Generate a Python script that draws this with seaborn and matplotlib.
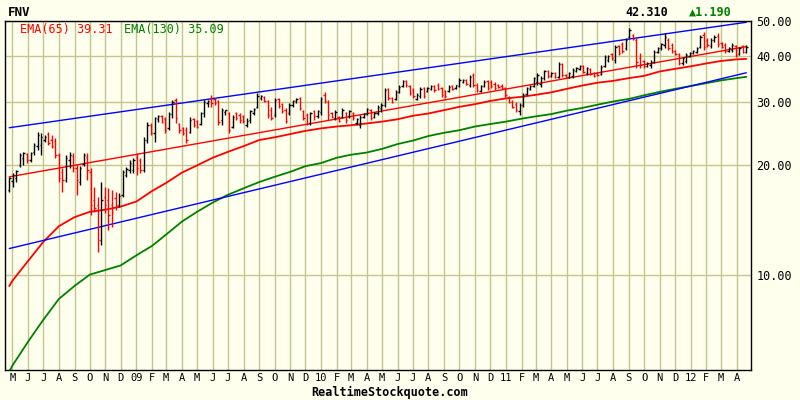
import pandas as pd
import matplotlib
matplotlib.use("Agg")
import matplotlib.pyplot as plt
import matplotlib.ticker as mticker
import seaborn as sns

# ---------------- data ----------------
ticker = "FNV"
first_week = "2008-04-25"
n_weeks = 209

opens = [17.12, 18.13, 18.47, 20.06, 20.97, 21.51, 20.70, 21.78, 22.63, 22.77,
         23.50, 24.42, 23.50, 23.35, 21.37, 19.19, 18.24, 20.70, 21.24, 19.68,
         18.01, 20.18, 21.10, 19.19, 16.06, 15.56, 12.47, 16.37, 16.06, 15.56,
         16.27, 15.56, 16.58, 18.82, 19.43, 19.43, 21.10, 20.70, 19.43, 23.50,
         25.85, 24.57, 26.85, 27.37, 26.85, 25.36, 27.72, 30.29, 26.01, 25.36,
         25.04, 24.73, 26.85, 26.51, 26.01, 27.89, 29.72, 30.48, 30.48, 30.10,
         26.68, 28.07, 27.89, 25.52, 27.89, 27.54, 27.37, 25.85, 26.68, 27.89,
         28.98, 30.68, 30.88, 30.10, 28.43, 27.54, 30.48, 29.53, 28.43, 27.89,
         29.35, 30.10, 30.68, 28.25, 27.54, 26.18, 28.25, 27.37, 28.07, 31.27,
         29.91, 27.89, 27.02, 27.19, 27.19, 27.89, 27.37, 27.89, 26.18, 25.85,
         27.19, 27.72, 28.43, 27.19, 27.89, 28.79, 29.35, 32.49, 30.68, 30.48,
         31.87, 33.11, 34.17, 33.11, 32.28, 30.48, 31.07, 32.69, 32.08, 32.49,
         33.11, 33.32, 32.69, 32.08, 32.08, 33.11, 32.69, 33.11, 33.96, 34.39,
         33.32, 35.50, 33.32, 32.08, 33.11, 34.17, 33.96, 33.53, 33.32, 33.11,
         32.69, 30.88, 29.91, 29.53, 28.25, 29.35, 31.47, 32.49, 33.11, 33.96,
         33.53, 34.83, 36.41, 35.28, 35.95, 35.05, 38.06, 35.50, 35.05, 35.28,
         36.41, 36.88, 37.58, 35.95, 36.88, 35.95, 35.95, 35.73, 37.58, 39.04,
         40.56, 39.04, 42.67, 43.22, 42.13, 45.17, 45.75, 44.32, 39.54, 38.79,
         37.58, 37.82, 38.55, 41.08, 42.13, 42.94, 44.32, 42.94, 41.34, 40.56,
         38.30, 38.79, 40.05, 40.82, 41.08, 42.40, 45.75, 44.32, 42.67, 44.32,
         45.46, 43.49, 42.94, 41.34, 41.60, 42.67, 40.56, 42.67, 41.08]

highs = [18.59, 19.06, 19.43, 21.64, 21.78, 21.64, 21.78, 23.06, 24.73, 24.57,
         24.26, 24.73, 24.26, 23.80, 21.64, 19.68, 21.37, 21.78, 21.64, 20.06,
         19.93, 21.64, 21.64, 19.68, 17.45, 16.37, 18.01, 17.45, 17.34, 17.12,
         16.90, 16.79, 19.43, 19.81, 20.70, 20.97, 21.64, 20.97, 23.96, 26.34,
         26.18, 27.19, 27.54, 27.54, 27.19, 28.07, 30.29, 30.68, 26.18, 25.52,
         25.52, 27.19, 27.02, 26.68, 28.07, 30.29, 30.29, 31.27, 30.68, 30.29,
         28.79, 28.43, 28.07, 27.54, 28.07, 27.89, 27.54, 27.02, 28.43, 28.79,
         31.67, 31.27, 31.07, 30.29, 28.98, 30.68, 30.68, 29.72, 28.79, 29.72,
         30.29, 30.68, 30.88, 28.43, 27.89, 28.07, 28.43, 28.43, 30.88, 31.87,
         30.29, 28.07, 28.43, 27.37, 28.79, 28.07, 28.43, 28.07, 27.02, 27.54,
         27.89, 28.79, 28.61, 28.07, 29.35, 29.72, 32.69, 32.69, 30.88, 32.28,
         33.32, 34.39, 34.39, 33.32, 32.69, 31.67, 32.90, 32.90, 32.90, 33.32,
         33.32, 33.75, 32.90, 32.28, 33.32, 33.32, 33.32, 34.83, 34.61, 34.61,
         35.50, 35.95, 33.75, 33.32, 34.39, 34.39, 34.39, 33.96, 33.53, 33.53,
         32.90, 31.07, 30.29, 29.91, 29.72, 31.67, 32.90, 33.32, 35.05, 35.95,
         35.28, 36.64, 36.64, 36.18, 36.18, 38.55, 38.30, 35.73, 36.18, 37.11,
         37.35, 37.82, 37.82, 37.35, 37.11, 36.18, 36.18, 37.82, 40.30, 40.30,
         40.82, 42.94, 42.94, 43.77, 44.89, 47.84, 46.04, 44.89, 40.82, 39.04,
         38.55, 39.04, 41.60, 42.40, 43.49, 46.33, 44.89, 43.49, 41.60, 40.82,
         39.79, 40.82, 41.08, 41.60, 42.40, 45.75, 46.63, 44.89, 44.89, 45.75,
         46.33, 43.77, 43.49, 42.40, 43.49, 42.94, 42.40, 42.94, 42.94]

lows = [16.90, 17.45, 18.01, 19.81, 20.06, 20.31, 20.44, 21.37, 22.06, 21.37,
        23.20, 22.77, 22.34, 20.97, 18.01, 16.90, 18.01, 19.68, 19.19, 16.58,
        17.67, 19.93, 18.24, 14.61, 14.89, 11.55, 12.08, 14.80, 13.28, 13.54,
        15.08, 15.37, 16.37, 18.59, 19.06, 19.06, 18.82, 19.06, 19.19, 23.06,
        24.26, 23.20, 26.34, 26.18, 24.57, 25.04, 27.02, 26.18, 24.57, 24.26,
        23.06, 24.57, 25.52, 25.36, 25.85, 27.19, 28.98, 28.98, 29.35, 25.85,
        25.85, 27.54, 24.57, 25.36, 26.68, 26.18, 26.18, 25.52, 26.18, 27.54,
        28.79, 30.29, 29.91, 27.02, 26.68, 27.19, 28.79, 27.89, 26.18, 27.54,
        28.98, 29.72, 28.43, 26.68, 25.85, 25.85, 26.68, 27.02, 27.54, 29.72,
        26.68, 27.02, 26.68, 26.34, 27.02, 26.18, 27.02, 26.68, 25.85, 25.36,
        27.02, 27.54, 26.68, 27.02, 27.54, 28.07, 28.98, 30.29, 29.72, 30.29,
        31.67, 32.90, 32.90, 31.27, 30.68, 30.29, 30.68, 30.68, 31.87, 32.28,
        31.87, 32.28, 30.88, 30.68, 31.87, 32.28, 32.49, 32.90, 33.75, 33.32,
        32.90, 32.90, 31.87, 31.87, 32.90, 32.28, 32.69, 32.28, 32.69, 32.49,
        30.88, 29.72, 28.79, 28.07, 27.54, 28.98, 31.27, 32.28, 32.90, 33.32,
        32.90, 34.39, 34.83, 35.05, 34.83, 34.83, 35.05, 34.83, 34.83, 34.83,
        36.18, 36.64, 35.95, 35.50, 35.50, 35.05, 35.28, 35.50, 37.35, 38.55,
        39.04, 38.30, 40.30, 40.82, 41.60, 44.89, 44.32, 37.11, 37.11, 37.11,
        37.35, 37.11, 38.30, 40.82, 41.60, 42.13, 41.60, 40.82, 40.30, 37.82,
        37.82, 38.30, 39.79, 40.56, 40.82, 42.13, 41.60, 42.40, 42.13, 43.77,
        42.40, 42.13, 40.82, 41.08, 41.08, 39.79, 40.30, 40.82, 40.82]

closes = [18.47, 18.82, 19.31, 21.37, 21.64, 20.70, 21.64, 22.77, 24.26, 23.96,
          23.96, 23.06, 22.63, 21.37, 18.47, 18.24, 20.97, 21.37, 19.68, 18.24,
          19.68, 21.37, 19.43, 15.56, 15.27, 12.47, 16.06, 15.56, 14.61, 14.89,
          15.56, 16.48, 19.19, 19.56, 20.31, 20.70, 19.68, 19.43, 23.50, 25.85,
          24.57, 27.02, 27.37, 26.34, 25.04, 27.72, 29.91, 27.02, 25.04, 24.57,
          23.50, 26.68, 25.85, 25.52, 27.89, 29.91, 30.10, 29.72, 29.72, 26.34,
          28.43, 28.43, 25.04, 27.19, 27.02, 26.68, 26.51, 26.51, 28.25, 28.61,
          31.07, 31.07, 30.10, 27.54, 27.02, 30.29, 29.16, 28.25, 26.51, 29.35,
          30.10, 30.48, 28.79, 27.02, 26.18, 27.89, 27.37, 28.25, 30.48, 30.10,
          27.54, 27.19, 28.07, 26.51, 28.43, 26.68, 28.25, 27.02, 26.85, 27.19,
          27.72, 28.61, 27.02, 27.89, 28.98, 29.35, 32.28, 30.68, 29.91, 31.87,
          32.90, 34.17, 33.32, 31.67, 31.07, 31.27, 32.49, 31.07, 32.69, 33.11,
          32.28, 32.49, 31.27, 31.07, 32.90, 32.49, 33.32, 34.39, 34.39, 33.53,
          35.05, 33.32, 32.28, 33.11, 33.96, 32.69, 33.11, 32.69, 32.90, 32.69,
          31.27, 29.91, 28.98, 28.43, 29.35, 31.27, 32.69, 33.11, 34.83, 35.50,
          34.83, 36.41, 35.28, 35.95, 35.05, 38.06, 35.50, 35.05, 35.95, 36.64,
          37.11, 37.58, 36.18, 37.11, 35.73, 35.28, 35.50, 37.35, 39.79, 40.05,
          39.54, 42.40, 40.82, 41.34, 44.32, 47.22, 44.60, 38.55, 37.82, 37.58,
          38.30, 38.55, 41.08, 42.13, 43.22, 45.17, 42.13, 41.34, 40.56, 38.30,
          39.54, 40.30, 40.82, 41.34, 42.13, 45.17, 42.40, 42.94, 44.32, 45.17,
          43.22, 42.40, 41.34, 42.13, 42.94, 40.30, 42.13, 41.12, 42.31]

ema_dates = ["2008-04-25"] + [f"{y}-{m:02d}-01" for y, m in
             [(2008, m) for m in range(5, 13)] +
             [(yy, m) for yy in (2009, 2010, 2011) for m in range(1, 13)] +
             [(2012, m) for m in range(1, 5)]] + ["2012-04-20"]

ema65 = [9.30, 9.61, 10.9, 12.3, 13.6, 14.4, 14.9, 15.1, 15.4,
         15.9, 17.0, 17.9, 19.1, 20.0, 21.0, 21.8, 22.6, 23.5, 23.9, 24.4, 24.9,
         25.3, 25.6, 25.8, 26.1, 26.4, 26.8, 27.4, 27.8, 28.4, 29.0, 29.5, 30.1,
         30.6, 30.9, 31.3, 31.8, 32.5, 33.2, 33.8, 34.2, 34.8, 35.3, 36.3, 36.9,
         37.5, 38.2, 38.8, 39.2, 39.31]

ema130 = [5.40, 5.61, 6.53, 7.50, 8.57, 9.31, 10.0, 10.3, 10.6,
          11.3, 12.0, 12.9, 14.0, 14.9, 15.8, 16.6, 17.3, 18.0, 18.6, 19.2, 19.9,
          20.3, 21.0, 21.4, 21.7, 22.2, 22.9, 23.4, 24.1, 24.6, 25.0, 25.6, 26.0,
          26.4, 26.9, 27.3, 27.7, 28.3, 28.8, 29.4, 30.0, 30.5, 31.2, 31.9, 32.5,
          33.1, 33.7, 34.3, 34.8, 35.09]

channel_dates = ["2008-04-25", "2012-04-20"]
upper_channel = [25.4, 49.6]
middle_line = [18.6, 42.5]
lower_channel = [11.8, 36.0]

month_labels = ["M", "J", "J", "A", "S", "O", "N", "D",
                "09", "F", "M", "A", "M", "J", "J", "A", "S", "O", "N", "D",
                "10", "F", "M", "A", "M", "J", "J", "A", "S", "O", "N", "D",
                "11", "F", "M", "A", "M", "J", "J", "A", "S", "O", "N", "D",
                "12", "F", "M", "A"]
y_ticks = [10, 20, 30, 40, 50]

last_price = "42.310"
change_text = "\u25b21.190"
ema65_label = "EMA(65) 39.31"
ema130_label = "EMA(130) 35.09"
footer = "RealtimeStockquote.com"

# ---------------- style ----------------
bg = "#ffffee"
grid_c = "#c4c48e"
sns.set_style("white", {"axes.facecolor": bg, "figure.facecolor": bg,
                        "axes.edgecolor": "black"})
mono = ["DejaVu Sans Mono", "DejaVu Sans"]
plt.rcParams["font.family"] = mono

fig = plt.figure(figsize=(8, 4), dpi=100, facecolor=bg)
ax = fig.add_axes([5 / 800, 30 / 400, 745.7 / 800, 349 / 400])
ax.set_facecolor(bg)

dates = pd.date_range(first_week, periods=n_weeks, freq="7D")
df = pd.DataFrame({"date": dates, "open": opens, "high": highs,
                   "low": lows, "close": closes})
colors = ["black" if c >= o else "red" for o, c in zip(df["open"], df["close"])]
half = pd.Timedelta(days=2.6)

ax.vlines(df["date"], df["low"], df["high"], colors=colors, lw=1.0, zorder=3)
ax.hlines(df["open"], df["date"] - half, df["date"], colors=colors, lw=1.0, zorder=3)
ax.hlines(df["close"], df["date"], df["date"] + half, colors=colors, lw=1.0, zorder=3)

ema_df = pd.DataFrame({"date": pd.to_datetime(ema_dates),
                       "ema65": ema65, "ema130": ema130})
sns.lineplot(data=ema_df, x="date", y="ema65", ax=ax, color="#ff0000", lw=1.3, zorder=2)
sns.lineplot(data=ema_df, x="date", y="ema130", ax=ax, color="#008000", lw=1.3, zorder=2)

ch_df = pd.DataFrame({"date": pd.to_datetime(channel_dates), "upper": upper_channel,
                      "mid": middle_line, "lower": lower_channel})
sns.lineplot(data=ch_df, x="date", y="upper", ax=ax, color="#0000ff", lw=1.0, zorder=2)
sns.lineplot(data=ch_df, x="date", y="lower", ax=ax, color="#0000ff", lw=1.0, zorder=2)
sns.lineplot(data=ch_df, x="date", y="mid", ax=ax, color="#ff0000", lw=1.0, zorder=2)

ax.set_yscale("log")
ax.set_ylim(5.46, 50)
ax.set_xlim(pd.Timestamp("2008-04-16 14:00"), pd.Timestamp("2012-04-28 16:00"))

month_starts = pd.date_range("2008-05-01", periods=len(month_labels), freq="MS")
ax.set_xticks(month_starts)
ax.set_xticklabels(month_labels)
ax.yaxis.set_major_locator(mticker.FixedLocator(y_ticks))
ax.yaxis.set_minor_locator(mticker.NullLocator())
ax.yaxis.set_major_formatter(mticker.FuncFormatter(lambda v, p: f"{v:.2f}"))
ax.yaxis.tick_right()
ax.tick_params(axis="y", length=0, pad=4, labelsize=8.5, labelcolor="black")
ax.tick_params(axis="x", length=0, pad=2, labelsize=7.5, labelcolor="black")
ax.set_xlabel("")
ax.set_ylabel("")

ax.grid(True, axis="both", color=grid_c, lw=1.0)
ax.set_axisbelow(True)
for s in ax.spines.values():
    s.set_color("black")
    s.set_linewidth(1.0)
    s.set_visible(True)

# ---------------- texts ----------------
fig.text(8 / 800, 1 - 12.5 / 400, ticker, fontsize=9, fontweight="bold",
         color="black", va="center", ha="left", family=mono)
fig.text(19.5 / 800, 1 - 30 / 400, ema65_label, fontsize=8.5, color="#ff0000",
         va="center", ha="left", family=mono)
fig.text(124 / 800, 1 - 30 / 400, ema130_label, fontsize=8.5, color="#008000",
         va="center", ha="left", family=mono)
fig.text(625 / 800, 1 - 12.5 / 400, last_price, fontsize=8.5, fontweight="bold",
         color="black", va="center", ha="left", family=mono)
fig.text(689 / 800, 1 - 12.5 / 400, change_text, fontsize=8.5, fontweight="bold",
         color="#008000", va="center", ha="left", family=mono)
fig.text(390 / 800, 1 - 392 / 400, footer, fontsize=8.5, fontweight="bold",
         color="black", va="center", ha="center", family=mono)

fig.savefig("out.png", dpi=100, facecolor=bg)
